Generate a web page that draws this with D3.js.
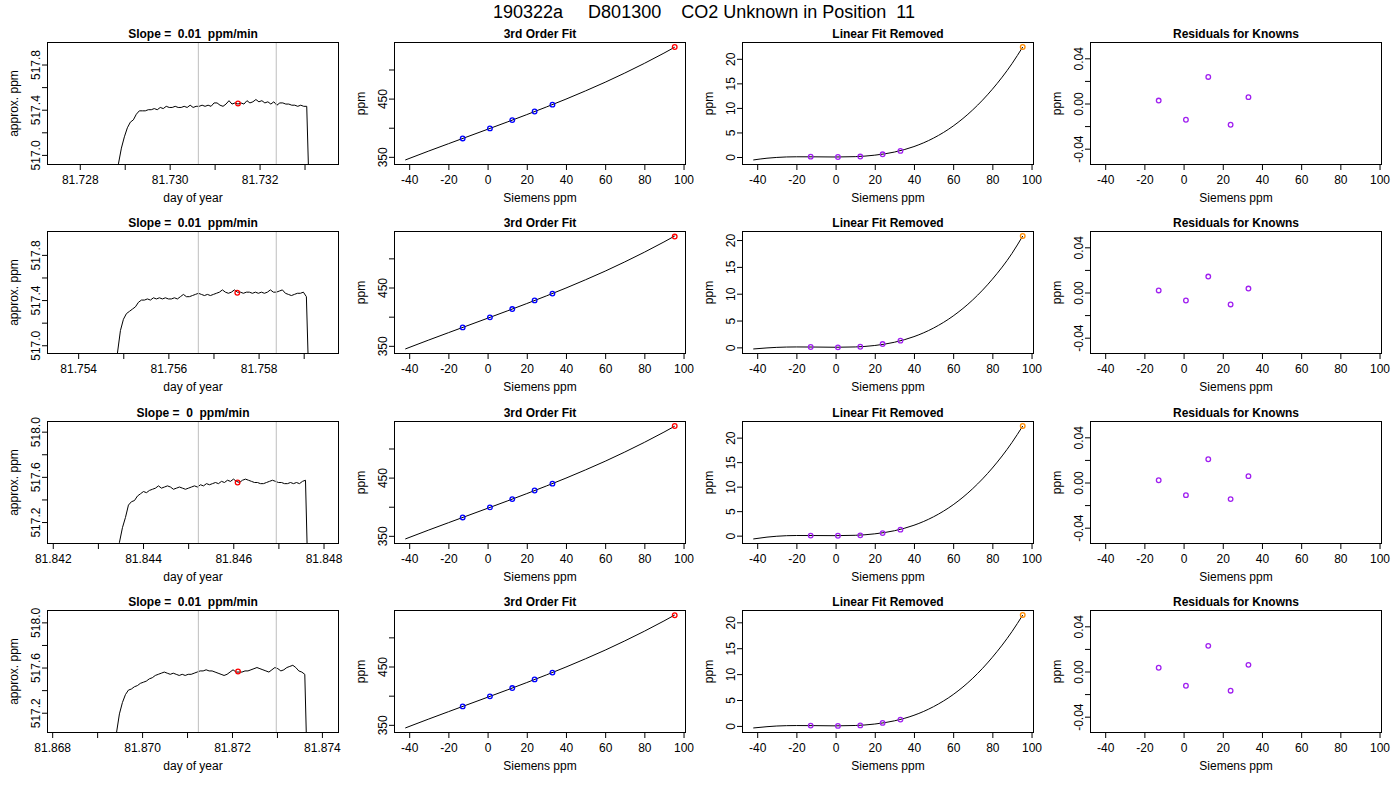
<!DOCTYPE html>
<html>
<head>
<meta charset="utf-8">
<script src="https://cdn.jsdelivr.net/npm/d3@7"></script>
<style>
  body { margin: 0; background: #fff; }
  text { white-space: pre; }
</style>
</head>
<body>
<script>
// ---- data ----
const runTitle = "190322a     D801300    CO2 Unknown in Position  11"
const slopeText = ["0.01", "0.01", "0", "0.01"]

// column 1: approx. ppm against day of year, one trace per row
const dayDomain = [
  [81.727282, 81.733756],
  [81.753320, 81.759772],
  [81.841883, 81.848332],
  [81.867896, 81.874369]
]
const dayTicks = [
  [81.728, 81.729, 81.730, 81.731, 81.732, 81.733],
  [81.754, 81.755, 81.756, 81.757, 81.758, 81.759],
  [81.842, 81.843, 81.844, 81.845, 81.846, 81.847, 81.848],
  [81.868, 81.869, 81.870, 81.871, 81.872, 81.873, 81.874]
]
const dayLabels = [
  ["81.728", "", "81.730", "", "81.732", ""],
  ["81.754", "", "81.756", "", "81.758", ""],
  ["81.842", "", "81.844", "", "81.846", "", "81.848"],
  ["81.868", "", "81.870", "", "81.872", "", "81.874"]
]
const approxLim = [
  [516.955, 517.955],
  [516.967, 517.967],
  [517.050, 518.050],
  [517.065, 518.065]
]
const approxTicks = [
  [517.0, 517.2, 517.4, 517.6, 517.8],
  [517.0, 517.2, 517.4, 517.6, 517.8],
  [517.2, 517.4, 517.6, 517.8, 518.0],
  [517.2, 517.4, 517.6, 517.8, 518.0]
]
const approxLabels = [
  ["517.0", "", "517.4", "", "517.8"],
  ["517.0", "", "517.4", "", "517.8"],
  ["517.2", "", "517.6", "", "518.0"],
  ["517.2", "", "517.6", "", "518.0"]
]
const traceStart = [81.728793, 81.754804, 81.843411, 81.869363]
const traceStep = 0.0000665
const traceRow1 = [516.60, 516.92, 517.06, 517.16, 517.24, 517.29, 517.31, 517.36, 517.39, 517.39,
  517.39, 517.40, 517.40, 517.41, 517.40, 517.42, 517.41, 517.43, 517.42, 517.42,
  517.43, 517.42, 517.42, 517.43, 517.42, 517.44, 517.42, 517.43, 517.43, 517.44,
  517.43, 517.44, 517.43, 517.46, 517.46, 517.44, 517.43, 517.45, 517.48, 517.45,
  517.46, 517.45, 517.46, 517.45, 517.48, 517.46, 517.47, 517.49, 517.47, 517.48,
  517.46, 517.47, 517.45, 517.47, 517.44, 517.46, 517.46, 517.45, 517.45, 517.44,
  517.44, 517.43, 517.44, 517.43, 517.43, 516.50]
const traceRow2 = [516.60, 516.93, 517.13, 517.23, 517.28, 517.30, 517.32, 517.34, 517.38, 517.40,
  517.40, 517.41, 517.40, 517.42, 517.41, 517.42, 517.41, 517.42, 517.41, 517.41,
  517.42, 517.41, 517.43, 517.45, 517.43, 517.43, 517.44, 517.45, 517.46, 517.45,
  517.44, 517.45, 517.44, 517.45, 517.46, 517.47, 517.49, 517.47, 517.46, 517.47,
  517.49, 517.47, 517.47, 517.46, 517.47, 517.47, 517.46, 517.47, 517.46, 517.47,
  517.46, 517.47, 517.49, 517.47, 517.47, 517.48, 517.49, 517.46, 517.45, 517.44,
  517.45, 517.46, 517.46, 517.47, 517.43, 516.50]
const traceRow3 = [516.60, 517.02, 517.15, 517.24, 517.35, 517.38, 517.39, 517.43, 517.45, 517.47,
  517.46, 517.48, 517.49, 517.50, 517.52, 517.50, 517.51, 517.52, 517.51, 517.49,
  517.50, 517.51, 517.50, 517.49, 517.50, 517.51, 517.52, 517.51, 517.53, 517.52,
  517.54, 517.53, 517.54, 517.55, 517.54, 517.56, 517.55, 517.57, 517.56, 517.58,
  517.56, 517.55, 517.57, 517.58, 517.57, 517.56, 517.55, 517.55, 517.54, 517.54,
  517.55, 517.56, 517.57, 517.56, 517.55, 517.55, 517.54, 517.54, 517.55, 517.54,
  517.55, 517.54, 517.56, 517.57, 516.50]
const traceRow4 = [516.60, 517.02, 517.19, 517.29, 517.36, 517.40, 517.41, 517.43, 517.44, 517.46,
  517.47, 517.48, 517.50, 517.51, 517.53, 517.54, 517.55, 517.56, 517.55, 517.54,
  517.55, 517.54, 517.53, 517.54, 517.53, 517.54, 517.54, 517.55, 517.56, 517.57,
  517.57, 517.58, 517.57, 517.57, 517.56, 517.55, 517.54, 517.53, 517.54, 517.56,
  517.58, 517.56, 517.56, 517.56, 517.57, 517.57, 517.58, 517.59, 517.60, 517.59,
  517.58, 517.57, 517.56, 517.58, 517.60, 517.59, 517.57, 517.58, 517.60, 517.61,
  517.62, 517.60, 517.57, 517.56, 517.54, 516.50]
const traces = [traceRow1, traceRow2, traceRow3, traceRow4]
const windowStart = [81.730638, 81.756664, 81.845226, 81.871252]
const windowEnd = [81.732371, 81.758392, 81.846953, 81.872985]
const meanDay = [81.731520, 81.757528, 81.846096, 81.872134]
const meanPpm = [517.455, 517.465, 517.550, 517.565]

// columns 2-4: calibration against Siemens ppm
const knownX = [-12.7, 1.2, 12.6, 24.0, 33.1]
const unknownX = 95.5
const curveX = [-42, -35, -30, -20, -10, 0, 10, 20, 30, 40, 50, 60, 70, 80, 90, 95.5]
const siemensTicks = [-40, -20, 0, 20, 40, 60, 80, 100]

const fitKnownY = [381.6, 398.8, 413.1, 427.9, 439.6]
const fitUnknownY = [538.6, 537.4, 538.6, 537.9]
const fitCurveY = [344.6, 353.6, 360.0, 372.5, 384.9, 397.3, 409.8, 422.5, 435.6, 449.1,
  463.3, 478.1, 493.9, 510.5, 528.1, 538.3]
const fitTicks = [350, 400, 450, 500]
const fitLabels = ["350", "", "450", ""]

const nonlinKnownY = [
  [0.07, 0.00, 0.09, 0.55, 1.24],
  [0.07, 0.00, 0.12, 0.62, 1.25],
  [0.01, -0.02, 0.06, 0.52, 1.22],
  [0.06, 0.00, 0.10, 0.58, 1.22]
]
const nonlinUnknownY = [22.40, 20.75, 22.37, 21.41]
const nonlinCurveY = [
  [-0.61, -0.25, -0.09, 0.04, 0.03, 0.00, 0.07, 0.37, 1.00, 2.12, 3.85, 6.30, 9.60, 13.80, 19.00, 22.40],
  [-0.30, -0.10, 0.00, 0.08, 0.06, 0.02, 0.08, 0.35, 0.95, 2.00, 3.60, 5.85, 8.85, 12.70, 17.50, 20.75],
  [-0.68, -0.30, -0.12, 0.03, 0.02, 0.00, 0.07, 0.37, 1.00, 2.12, 3.85, 6.30, 9.60, 13.80, 19.00, 22.37],
  [-0.40, -0.15, -0.02, 0.07, 0.05, 0.01, 0.08, 0.36, 0.98, 2.05, 3.72, 6.05, 9.20, 13.25, 18.20, 21.40]
]
const nonlinTicks = [0, 5, 10, 15, 20]

const residY = [
  [0.0026, -0.0144, 0.0235, -0.0188, 0.0056],
  [0.0018, -0.0071, 0.0141, -0.0106, 0.0035],
  [0.0020, -0.0112, 0.0206, -0.0147, 0.0056],
  [0.0033, -0.0126, 0.0227, -0.0170, 0.0059]
]
const residLim = [-0.05, 0.05]
const residTicks = [-0.04, -0.02, 0, 0.02, 0.04]
const residLabels = ["-0.04", "", "0.00", "", "0.04"]

// ---- layout ----
const FONT = '"Liberation Sans", Arial, Helvetica, sans-serif'
const W = 291, H = 122
const colLeft = [47.5, 394.5, 742.5, 1090.5]
const rowTop = [42.5, 231.5, 421.5, 610.5]

const svg = d3.select("body").append("svg")
    .attr("width", 1400)
    .attr("height", 800)
    .attr("font-family", FONT)

svg.append("text")
    .attr("x", 704)
    .attr("y", 18)
    .attr("text-anchor", "middle")
    .attr("font-size", 18)
    .text(runTitle)

// R style axis range: data range stretched by 4%
function pad(lim) {
  let e = (lim[1] - lim[0]) * 0.04
  return [lim[0] - e, lim[1] + e]
}

function panel(r, c, xDomain, yDomain) {
  let x = d3.scaleLinear().domain(xDomain).range([colLeft[c], colLeft[c] + W])
  let y = d3.scaleLinear().domain(yDomain).range([rowTop[r] + H, rowTop[r]])
  let id = "clip-" + r + "-" + c
  svg.append("clipPath").attr("id", id)
    .append("rect")
    .attr("x", colLeft[c]).attr("y", rowTop[r])
    .attr("width", W).attr("height", H)
  let g = svg.append("g")
  let plot = g.append("g").attr("clip-path", "url(#" + id + ")")
  return {g, plot, x, y}
}

function decorate(p, xt, xl, yt, yl, title, xlab, ylab) {
  let {g, x, y} = p
  let [l, rt] = x.range(), [b, t] = y.range()

  g.append("g")
    .attr("transform", "translate(0," + b + ")")
    .call(d3.axisBottom(x).tickValues(xt).tickFormat((d, i) => xl[i]).tickSize(5.5).tickPadding(5))
    .call(a => {
      a.select(".domain").remove()
      a.attr("font-family", FONT).attr("font-size", 12)
    })

  g.append("g")
    .attr("transform", "translate(" + l + ",0)")
    .call(d3.axisLeft(y).tickValues(yt).tickFormat((d, i) => yl[i]).tickSize(5.5))
    .call(a => {
      a.select(".domain").remove()
      a.attr("font-family", FONT).attr("font-size", 12)
      a.selectAll("text")
        .attr("x", null)
        .attr("dy", null)
        .attr("text-anchor", "middle")
        .attr("transform", "translate(-8,0) rotate(-90)")
    })

  g.append("rect")
    .attr("x", l).attr("y", t)
    .attr("width", rt - l).attr("height", b - t)
    .attr("fill", "none")
    .attr("stroke", "#000")

  g.append("text")
    .attr("x", (l + rt) / 2).attr("y", t - 5)
    .attr("text-anchor", "middle")
    .attr("font-size", 12)
    .attr("font-weight", "bold")
    .text(title)

  g.append("text")
    .attr("x", (l + rt) / 2).attr("y", b + 37)
    .attr("text-anchor", "middle")
    .attr("font-size", 12)
    .text(xlab)

  g.append("text")
    .attr("transform", "translate(" + (l - 30) + "," + (t + b) / 2 + ") rotate(-90)")
    .attr("text-anchor", "middle")
    .attr("font-size", 12)
    .text(ylab)
}

function circles(plot, x, y, xs, ys, color) {
  plot.selectAll(null)
    .data(xs.map((v, i) => [v, ys[i]]))
    .enter()
    .append("circle")
    .attr("cx", d => x(d[0]))
    .attr("cy", d => y(d[1]))
    .attr("r", 2.3)
    .attr("fill", "none")
    .attr("stroke", color)
    .attr("stroke-width", 1.3)
}

let siemensDomain = pad([curveX[0], unknownX])
let sLabels = siemensTicks.map(String)

for (let r = 0; r < 4; r++) {
  // column 1: time series
  let p = panel(r, 0, dayDomain[r], pad(approxLim[r]))
  let pts = traces[r].map((v, i) => [traceStart[r] + i * traceStep, v])
  p.plot.append("path")
    .datum(pts)
    .attr("fill", "none")
    .attr("stroke", "#000")
    .attr("stroke-width", 1)
    .attr("d", d3.line().x(d => p.x(d[0])).y(d => p.y(d[1])))
  p.plot.selectAll(null)
    .data([windowStart[r], windowEnd[r]])
    .enter()
    .append("line")
    .attr("x1", d => p.x(d)).attr("x2", d => p.x(d))
    .attr("y1", rowTop[r]).attr("y2", rowTop[r] + H)
    .attr("stroke", "#bebebe")
  circles(p.plot, p.x, p.y, [meanDay[r]], [meanPpm[r]], "#ff0000")
  decorate(p, dayTicks[r], dayLabels[r], approxTicks[r], approxLabels[r],
    "Slope =  " + slopeText[r] + "  ppm/min", "day of year", "approx. ppm")

  // column 2: 3rd order fit
  let fitAll = fitCurveY.concat(fitKnownY, [fitUnknownY[r]])
  p = panel(r, 1, siemensDomain, pad(d3.extent(fitAll)))
  p.plot.append("path")
    .datum(curveX.map((v, i) => [v, fitCurveY[i]]))
    .attr("fill", "none")
    .attr("stroke", "#000")
    .attr("d", d3.line().curve(d3.curveMonotoneX).x(d => p.x(d[0])).y(d => p.y(d[1])))
  circles(p.plot, p.x, p.y, knownX, fitKnownY, "#0000ff")
  circles(p.plot, p.x, p.y, [unknownX], [fitUnknownY[r]], "#ff0000")
  decorate(p, siemensTicks, sLabels, fitTicks, fitLabels, "3rd Order Fit", "Siemens ppm", "ppm")

  // column 3: linear fit removed
  let nlAll = nonlinCurveY[r].concat(nonlinKnownY[r], [nonlinUnknownY[r]])
  p = panel(r, 2, siemensDomain, pad(d3.extent(nlAll)))
  p.plot.append("path")
    .datum(curveX.map((v, i) => [v, nonlinCurveY[r][i]]))
    .attr("fill", "none")
    .attr("stroke", "#000")
    .attr("d", d3.line().curve(d3.curveMonotoneX).x(d => p.x(d[0])).y(d => p.y(d[1])))
  circles(p.plot, p.x, p.y, knownX, nonlinKnownY[r], "#a020f0")
  circles(p.plot, p.x, p.y, [unknownX], [nonlinUnknownY[r]], "#ff8c00")
  decorate(p, siemensTicks, sLabels, nonlinTicks, nonlinTicks.map(String),
    "Linear Fit Removed", "Siemens ppm", "ppm")

  // column 4: residuals
  p = panel(r, 3, siemensDomain, pad(residLim))
  circles(p.plot, p.x, p.y, knownX, residY[r], "#a020f0")
  decorate(p, siemensTicks, sLabels, residTicks, residLabels,
    "Residuals for Knowns", "Siemens ppm", "ppm")
}
</script>
</body>
</html>
